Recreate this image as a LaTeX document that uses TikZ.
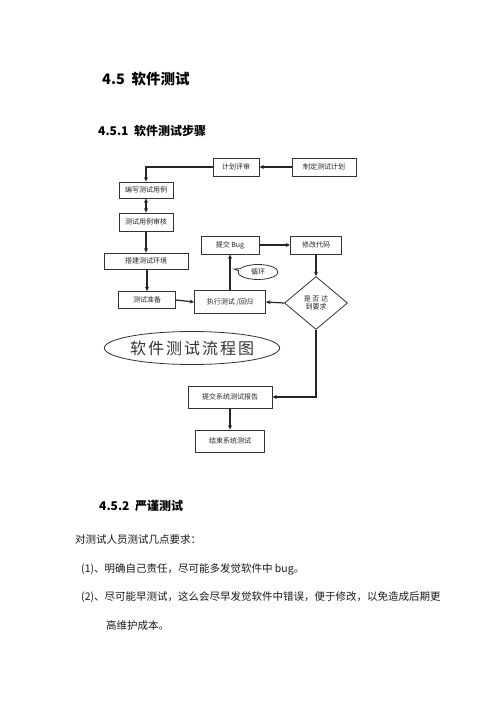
\documentclass[tikz,border=0pt]{standalone}
\usepackage{fontspec}
\newfontfamily\cjk{Noto Sans CJK SC}
\usetikzlibrary{arrows.meta,shapes.geometric,shapes.callouts}
\begin{document}
\begin{tikzpicture}[x=1pt,y=-1pt,
  box/.style={draw=black!80,line width=0.8pt,rectangle,inner sep=0pt,font=\cjk\fontsize{7}{8.5}\selectfont,text=black!85},
  conn/.style={draw=black!85,line width=1.2pt,-{Stealth[length=4.5pt,width=4pt]}},
  head/.style={anchor=west,inner sep=0pt,font=\cjk\bfseries},
  body/.style={anchor=west,inner sep=0pt,font=\cjk\fontsize{10.5}{12}\selectfont,text=black!90}]
\useasboundingbox[fill=white] (0,0) rectangle (500,707);
% headings
\node[head,font=\cjk\bfseries\fontsize{14.5}{16}\selectfont] (h1) at (102,79) {4.5\ \ 软件测试};
\node[head,font=\cjk\bfseries\fontsize{12}{14}\selectfont] (h2) at (98,131) {4.5.1\ \ 软件测试步骤};
% flow boxes
\node[box,minimum width=46pt,minimum height=18pt] (jhps) at (236,167) {计划评审};
\node[box,minimum width=64pt,minimum height=18pt] (zdjh) at (324,167) {制定测试计划};
\node[box,minimum width=54pt,minimum height=16pt] (bxyl) at (146,190) {编写测试用例};
\node[box,minimum width=54pt,minimum height=18pt] (sxsh) at (146,222) {测试用例审核};
\node[box,minimum width=84pt,minimum height=16pt] (djhj) at (146,261) {搭建测试环境};
\node[box,minimum width=57pt,minimum height=17pt] (cszb) at (147,300) {测试准备};
\node[box,minimum width=71pt,minimum height=23pt] (zxcs) at (230,302) {执行测试 /回归};
\node[box,minimum width=58pt,minimum height=18pt] (tjbug) at (230,245) {提交 Bug};
\node[box,minimum width=51pt,minimum height=18pt] (xgdm) at (316,245) {修改代码};
\node[box,diamond,aspect=1.2,minimum width=63pt,minimum height=53pt,align=center] (dia) at (316,303) {是 否 达\\到要求};
\node[box,minimum width=84pt,minimum height=22pt] (tjbg) at (230,397) {提交系统测试报告};
\node[box,minimum width=69pt,minimum height=22pt] (jsxt) at (230,441) {结束系统测试};
% callout
\node[box,ellipse callout,minimum width=40pt,minimum height=15pt,callout absolute pointer={(234,269)}] (xh) at (258,272) {循环};
% big ellipse
\node[draw=black!80,line width=0.8pt,ellipse,minimum width=175pt,minimum height=33pt,inner sep=0pt,font=\cjk\fontsize{16}{19}\selectfont,text=black!80] (title) at (192,348) {软\hspace{2pt}件\hspace{2pt}测\hspace{2pt}试\hspace{2pt}流\hspace{2pt}程\hspace{2pt}图};
% connectors
\draw[conn] (zdjh.west) -- (jhps.east);
\draw[conn] (jhps.west) -| (bxyl.north);
\draw[conn,{Stealth[length=4.5pt,width=4pt]}-{Stealth[length=4.5pt,width=4pt]}] (bxyl.south) -- (sxsh.north);
\draw[conn] (sxsh.south) -- (djhj.north);
\draw[conn] (djhj.south -| cszb.north) -- (cszb.north);
\draw[conn] (cszb.east) -- (zxcs.west);
\draw[conn] (zxcs.north) -- (tjbug.south);
\draw[conn] (tjbug.east) -- (xgdm.west);
\draw[conn] (xgdm.south) -- (dia.north);
\draw[conn] (dia.west) -- (zxcs.east);
\draw[conn] (dia.south) |- (tjbg.east);
\draw[conn] (tjbg.south) -- (jsxt.north);
% text
\node[head,font=\cjk\bfseries\fontsize{12}{14}\selectfont] (h3) at (99,506) {4.5.2\ \ 严谨测试};
\node[body] (t1) at (75,540) {对测试人员测试几点要求：};
\node[body] (t2) at (81,569) {(1)、明确自己责任，尽可能多发觉软件中 bug。};
\node[body] (t3) at (81,597) {(2)、尽可能早测试，这么会尽早发觉软件中错误，便于修改，以免造成后期更};
\node[body] (t4) at (106,626) {高维护成本。};
\end{tikzpicture}
\end{document}
